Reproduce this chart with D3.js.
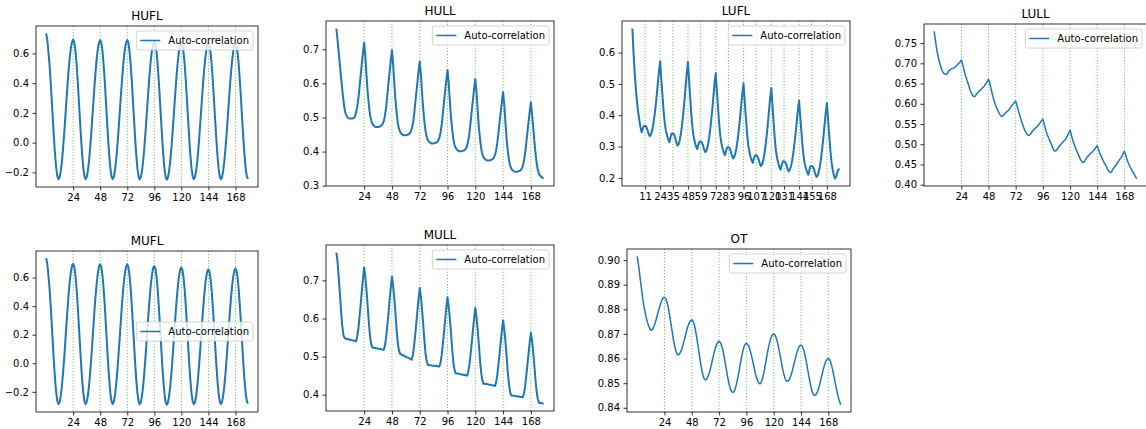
<!DOCTYPE html>
<html>
<head>
<meta charset="utf-8">
<script src="https://cdn.jsdelivr.net/npm/d3@7"></script>
<style>
body { margin: 0; background: #fff; }
svg text { font-family: "DejaVu Sans", sans-serif; fill: #000; }
</style>
</head>
<body>
<svg width="1146" height="429"></svg>
<script>
var lags = d3.range(0, 180);
var dayTicks = [24, 48, 72, 96, 120, 144, 168];
var lufllTicks = [11, 24, 35, 48, 59, 72, 83, 96, 107, 120, 131, 144, 155, 168];
var legendLabel = 'Auto-correlation';

var hufl = [
  0.735, 0.695, 0.615, 0.529, 0.416, 0.288, 0.156, 0.028, -0.085, -0.172, -0.227, -0.246,
  -0.232, -0.192, -0.129, -0.043, 0.056, 0.165, 0.279, 0.388, 0.488, 0.573, 0.636, 0.676,
  0.693, 0.674, 0.619, 0.532, 0.419, 0.291, 0.159, 0.031, -0.082, -0.169, -0.226, -0.246,
  -0.232, -0.192, -0.129, -0.043, 0.056, 0.165, 0.279, 0.388, 0.488, 0.573, 0.636, 0.675,
  0.689, 0.670, 0.615, 0.528, 0.415, 0.287, 0.155, 0.027, -0.086, -0.172, -0.227, -0.245,
  -0.231, -0.191, -0.128, -0.042, 0.056, 0.165, 0.278, 0.387, 0.487, 0.572, 0.635, 0.674,
  0.689, 0.670, 0.615, 0.528, 0.415, 0.287, 0.155, 0.027, -0.086, -0.173, -0.228, -0.247,
  -0.233, -0.194, -0.131, -0.046, 0.052, 0.160, 0.273, 0.381, 0.480, 0.564, 0.627, 0.667,
  0.680, 0.661, 0.606, 0.520, 0.408, 0.281, 0.150, 0.023, -0.089, -0.175, -0.230, -0.249,
  -0.236, -0.196, -0.133, -0.049, 0.049, 0.157, 0.269, 0.377, 0.475, 0.559, 0.622, 0.662,
  0.675, 0.656, 0.602, 0.516, 0.406, 0.280, 0.149, 0.023, -0.087, -0.173, -0.227, -0.246,
  -0.233, -0.193, -0.131, -0.048, 0.049, 0.157, 0.267, 0.375, 0.472, 0.555, 0.617, 0.657,
  0.670, 0.651, 0.597, 0.512, 0.402, 0.277, 0.147, 0.022, -0.088, -0.173, -0.227, -0.246,
  -0.233, -0.193, -0.131, -0.048, 0.048, 0.155, 0.266, 0.373, 0.470, 0.552, 0.614, 0.654,
  0.667, 0.648, 0.595, 0.510, 0.400, 0.276, 0.146, 0.022, -0.087, -0.171, -0.225, -0.244
];

var hull = [
  0.761, 0.728, 0.692, 0.655, 0.620, 0.585, 0.553, 0.527, 0.511, 0.503, 0.499, 0.497,
  0.497, 0.497, 0.497, 0.499, 0.502, 0.515, 0.530, 0.555, 0.588, 0.624, 0.658, 0.691,
  0.720, 0.680, 0.626, 0.576, 0.539, 0.509, 0.492, 0.482, 0.477, 0.474, 0.472, 0.472,
  0.472, 0.473, 0.474, 0.477, 0.481, 0.490, 0.506, 0.531, 0.564, 0.600, 0.634, 0.668,
  0.697, 0.657, 0.602, 0.553, 0.515, 0.485, 0.468, 0.458, 0.453, 0.450, 0.448, 0.448,
  0.448, 0.449, 0.450, 0.452, 0.457, 0.465, 0.480, 0.504, 0.537, 0.571, 0.604, 0.636,
  0.664, 0.626, 0.573, 0.525, 0.489, 0.460, 0.443, 0.434, 0.429, 0.426, 0.424, 0.424,
  0.424, 0.425, 0.426, 0.428, 0.433, 0.441, 0.456, 0.480, 0.512, 0.547, 0.579, 0.611,
  0.639, 0.601, 0.549, 0.501, 0.465, 0.437, 0.420, 0.411, 0.406, 0.403, 0.401, 0.401,
  0.401, 0.402, 0.403, 0.405, 0.409, 0.418, 0.433, 0.456, 0.488, 0.522, 0.554, 0.585,
  0.613, 0.575, 0.522, 0.474, 0.439, 0.410, 0.393, 0.384, 0.379, 0.376, 0.374, 0.374,
  0.374, 0.375, 0.376, 0.378, 0.382, 0.390, 0.404, 0.426, 0.456, 0.488, 0.518, 0.548,
  0.574, 0.537, 0.485, 0.439, 0.404, 0.376, 0.360, 0.350, 0.346, 0.343, 0.341, 0.341,
  0.341, 0.342, 0.343, 0.345, 0.349, 0.357, 0.372, 0.394, 0.425, 0.457, 0.488, 0.518,
  0.545, 0.510, 0.470, 0.430, 0.395, 0.365, 0.345, 0.334, 0.329, 0.326, 0.323, 0.321
];

var lufl = [
  0.677, 0.600, 0.535, 0.485, 0.443, 0.410, 0.385, 0.362, 0.346, 0.358, 0.366, 0.366,
  0.363, 0.354, 0.341, 0.333, 0.338, 0.350, 0.369, 0.395, 0.426, 0.462, 0.503, 0.541,
  0.572, 0.515, 0.464, 0.412, 0.373, 0.350, 0.335, 0.322, 0.314, 0.331, 0.342, 0.342,
  0.339, 0.328, 0.313, 0.303, 0.308, 0.322, 0.343, 0.372, 0.407, 0.447, 0.493, 0.535,
  0.570, 0.509, 0.453, 0.398, 0.356, 0.331, 0.314, 0.300, 0.292, 0.306, 0.316, 0.316,
  0.313, 0.304, 0.290, 0.282, 0.287, 0.300, 0.320, 0.348, 0.380, 0.418, 0.461, 0.501,
  0.534, 0.476, 0.424, 0.372, 0.332, 0.309, 0.293, 0.280, 0.272, 0.288, 0.298, 0.298,
  0.295, 0.285, 0.271, 0.262, 0.267, 0.279, 0.298, 0.324, 0.356, 0.392, 0.432, 0.471,
  0.502, 0.446, 0.395, 0.345, 0.306, 0.284, 0.268, 0.256, 0.248, 0.262, 0.272, 0.272,
  0.269, 0.260, 0.246, 0.238, 0.243, 0.255, 0.275, 0.303, 0.335, 0.372, 0.415, 0.455,
  0.487, 0.430, 0.377, 0.325, 0.286, 0.263, 0.247, 0.234, 0.226, 0.242, 0.253, 0.253,
  0.250, 0.242, 0.229, 0.221, 0.226, 0.237, 0.255, 0.280, 0.309, 0.343, 0.381, 0.418,
  0.447, 0.395, 0.347, 0.300, 0.265, 0.243, 0.229, 0.217, 0.210, 0.227, 0.238, 0.238,
  0.235, 0.226, 0.212, 0.203, 0.208, 0.220, 0.238, 0.264, 0.295, 0.330, 0.371, 0.408,
  0.439, 0.386, 0.336, 0.288, 0.251, 0.226, 0.208, 0.198, 0.204, 0.218, 0.227, 0.229
];

var lull = [
  0.779, 0.760, 0.740, 0.724, 0.711, 0.700, 0.690, 0.683, 0.677, 0.674, 0.673, 0.673,
  0.677, 0.681, 0.684, 0.686, 0.687, 0.688, 0.690, 0.692, 0.695, 0.698, 0.701, 0.704,
  0.708, 0.700, 0.688, 0.676, 0.667, 0.658, 0.650, 0.641, 0.632, 0.625, 0.620, 0.618,
  0.618, 0.622, 0.626, 0.629, 0.632, 0.634, 0.637, 0.640, 0.643, 0.647, 0.651, 0.656,
  0.661, 0.652, 0.640, 0.628, 0.617, 0.607, 0.598, 0.591, 0.585, 0.579, 0.574, 0.570,
  0.569, 0.571, 0.574, 0.577, 0.580, 0.582, 0.585, 0.589, 0.593, 0.597, 0.600, 0.604,
  0.607, 0.597, 0.587, 0.577, 0.567, 0.558, 0.550, 0.542, 0.535, 0.529, 0.525, 0.522,
  0.522, 0.525, 0.529, 0.533, 0.536, 0.539, 0.541, 0.544, 0.547, 0.551, 0.555, 0.559,
  0.562, 0.552, 0.541, 0.531, 0.523, 0.516, 0.510, 0.503, 0.496, 0.489, 0.484, 0.483,
  0.485, 0.489, 0.493, 0.497, 0.500, 0.503, 0.506, 0.509, 0.512, 0.517, 0.523, 0.529,
  0.535, 0.525, 0.514, 0.505, 0.497, 0.490, 0.483, 0.477, 0.470, 0.464, 0.459, 0.456,
  0.455, 0.459, 0.464, 0.468, 0.471, 0.474, 0.477, 0.480, 0.482, 0.485, 0.489, 0.493,
  0.496, 0.488, 0.480, 0.473, 0.467, 0.461, 0.455, 0.450, 0.445, 0.439, 0.434, 0.431,
  0.430, 0.434, 0.439, 0.443, 0.446, 0.450, 0.455, 0.459, 0.463, 0.467, 0.472, 0.478,
  0.483, 0.475, 0.465, 0.457, 0.450, 0.444, 0.439, 0.434, 0.429, 0.424, 0.419, 0.415
];

var mufl = [
  0.735, 0.700, 0.620, 0.530, 0.412, 0.277, 0.137, 0.002, -0.116, -0.208, -0.266, -0.286,
  -0.272, -0.229, -0.163, -0.073, 0.031, 0.146, 0.265, 0.380, 0.485, 0.574, 0.640, 0.683,
  0.697, 0.677, 0.619, 0.527, 0.409, 0.275, 0.136, 0.002, -0.116, -0.208, -0.266, -0.286,
  -0.272, -0.230, -0.163, -0.074, 0.030, 0.144, 0.263, 0.377, 0.482, 0.570, 0.637, 0.679,
  0.693, 0.673, 0.615, 0.524, 0.407, 0.273, 0.135, 0.001, -0.116, -0.207, -0.265, -0.285,
  -0.271, -0.229, -0.162, -0.073, 0.030, 0.145, 0.263, 0.378, 0.482, 0.570, 0.637, 0.679,
  0.693, 0.673, 0.615, 0.524, 0.406, 0.273, 0.134, 0.000, -0.118, -0.209, -0.267, -0.287,
  -0.273, -0.231, -0.166, -0.077, 0.025, 0.138, 0.256, 0.369, 0.472, 0.560, 0.625, 0.667,
  0.681, 0.661, 0.604, 0.514, 0.397, 0.264, 0.127, -0.006, -0.122, -0.213, -0.270, -0.290,
  -0.276, -0.235, -0.170, -0.082, 0.020, 0.132, 0.248, 0.360, 0.463, 0.550, 0.615, 0.656,
  0.670, 0.650, 0.594, 0.505, 0.390, 0.259, 0.124, -0.007, -0.122, -0.211, -0.267, -0.287,
  -0.273, -0.233, -0.168, -0.082, 0.018, 0.128, 0.243, 0.353, 0.454, 0.539, 0.604, 0.644,
  0.658, 0.639, 0.583, 0.495, 0.382, 0.253, 0.119, -0.010, -0.123, -0.211, -0.267, -0.286,
  -0.272, -0.231, -0.167, -0.081, 0.020, 0.131, 0.246, 0.357, 0.458, 0.544, 0.608, 0.649,
  0.663, 0.644, 0.588, 0.500, 0.386, 0.257, 0.123, -0.006, -0.120, -0.208, -0.264, -0.283
];

var mull = [
  0.773, 0.750, 0.710, 0.668, 0.622, 0.583, 0.558, 0.549, 0.547, 0.546, 0.546, 0.545,
  0.544, 0.543, 0.543, 0.542, 0.541, 0.540, 0.552, 0.573, 0.604, 0.637, 0.672, 0.705,
  0.734, 0.709, 0.675, 0.635, 0.591, 0.555, 0.534, 0.524, 0.523, 0.523, 0.522, 0.522,
  0.521, 0.520, 0.520, 0.519, 0.518, 0.518, 0.530, 0.551, 0.581, 0.614, 0.649, 0.681,
  0.710, 0.686, 0.653, 0.615, 0.572, 0.537, 0.517, 0.507, 0.506, 0.504, 0.503, 0.501,
  0.500, 0.498, 0.497, 0.495, 0.494, 0.492, 0.503, 0.524, 0.554, 0.586, 0.620, 0.652,
  0.680, 0.656, 0.623, 0.585, 0.543, 0.508, 0.488, 0.478, 0.478, 0.477, 0.477, 0.476,
  0.476, 0.476, 0.475, 0.475, 0.474, 0.474, 0.485, 0.505, 0.534, 0.565, 0.598, 0.629,
  0.656, 0.632, 0.600, 0.562, 0.520, 0.486, 0.466, 0.456, 0.456, 0.455, 0.455, 0.454,
  0.453, 0.453, 0.452, 0.451, 0.451, 0.450, 0.461, 0.480, 0.509, 0.539, 0.571, 0.601,
  0.628, 0.604, 0.572, 0.534, 0.493, 0.459, 0.439, 0.429, 0.429, 0.428, 0.428, 0.427,
  0.426, 0.426, 0.425, 0.424, 0.424, 0.423, 0.433, 0.452, 0.480, 0.509, 0.540, 0.569,
  0.595, 0.571, 0.540, 0.502, 0.461, 0.428, 0.408, 0.398, 0.398, 0.397, 0.397, 0.396,
  0.396, 0.395, 0.395, 0.394, 0.394, 0.393, 0.403, 0.422, 0.449, 0.478, 0.509, 0.538,
  0.563, 0.541, 0.511, 0.476, 0.438, 0.407, 0.388, 0.379, 0.378, 0.378, 0.377, 0.377
];

var ot = [
  0.9015, 0.8985, 0.8950, 0.8912, 0.8875, 0.8840, 0.8810, 0.8787, 0.8765, 0.8748, 0.8733, 0.8722,
  0.8715, 0.8716, 0.8723, 0.8734, 0.8748, 0.8764, 0.8782, 0.8799, 0.8815, 0.8829, 0.8840, 0.8847,
  0.8849, 0.8845, 0.8833, 0.8815, 0.8790, 0.8762, 0.8732, 0.8702, 0.8673, 0.8649, 0.8631, 0.8619,
  0.8615, 0.8617, 0.8625, 0.8636, 0.8651, 0.8668, 0.8686, 0.8704, 0.8722, 0.8736, 0.8747, 0.8755,
  0.8757, 0.8753, 0.8741, 0.8721, 0.8696, 0.8666, 0.8635, 0.8604, 0.8574, 0.8549, 0.8529, 0.8517,
  0.8513, 0.8516, 0.8524, 0.8536, 0.8552, 0.8571, 0.8592, 0.8612, 0.8631, 0.8647, 0.8659, 0.8667,
  0.8670, 0.8666, 0.8656, 0.8640, 0.8618, 0.8593, 0.8566, 0.8539, 0.8514, 0.8492, 0.8476, 0.8466,
  0.8462, 0.8465, 0.8475, 0.8491, 0.8512, 0.8536, 0.8562, 0.8588, 0.8612, 0.8633, 0.8649, 0.8659,
  0.8662, 0.8659, 0.8651, 0.8638, 0.8621, 0.8601, 0.8580, 0.8559, 0.8538, 0.8521, 0.8508, 0.8500,
  0.8497, 0.8503, 0.8516, 0.8535, 0.8558, 0.8584, 0.8610, 0.8635, 0.8657, 0.8675, 0.8689, 0.8697,
  0.8700, 0.8697, 0.8687, 0.8672, 0.8652, 0.8628, 0.8604, 0.8579, 0.8555, 0.8535, 0.8520, 0.8510,
  0.8507, 0.8510, 0.8517, 0.8529, 0.8544, 0.8562, 0.8581, 0.8600, 0.8618, 0.8633, 0.8645, 0.8652,
  0.8655, 0.8652, 0.8641, 0.8625, 0.8604, 0.8579, 0.8552, 0.8526, 0.8501, 0.8480, 0.8463, 0.8453,
  0.8450, 0.8453, 0.8460, 0.8472, 0.8488, 0.8506, 0.8526, 0.8545, 0.8563, 0.8579, 0.8590, 0.8598,
  0.8601, 0.8597, 0.8586, 0.8570, 0.8550, 0.8527, 0.8503, 0.8480, 0.8459, 0.8439, 0.8424, 0.8413
];

var huflTicksY = [-0.2, 0.0, 0.2, 0.4, 0.6];
var hullTicksY = [0.3, 0.4, 0.5, 0.6, 0.7];
var luflTicksY = [0.2, 0.3, 0.4, 0.5, 0.6];
var lullTicksY = [0.40, 0.45, 0.50, 0.55, 0.60, 0.65, 0.70, 0.75];
var muflTicksY = [-0.2, 0.0, 0.2, 0.4, 0.6];
var mullTicksY = [0.4, 0.5, 0.6, 0.7];
var otTicksY = [0.84, 0.85, 0.86, 0.87, 0.88, 0.89, 0.90];

// box = [left, top, right, bottom] in pixels
var panels = [
  {title: 'HUFL', values: hufl, xTicks: dayTicks, yTicks: huflTicksY, fmt: '.1f', box: [36, 26, 258, 187], legend: 'upper', lw: 2},
  {title: 'HULL', values: hull, xTicks: dayTicks, yTicks: hullTicksY, fmt: '.1f', box: [326, 21, 554, 186], legend: 'upper', lw: 2},
  {title: 'LUFL', values: lufl, xTicks: lufllTicks, yTicks: luflTicksY, fmt: '.1f', box: [622, 21, 850, 186], legend: 'upper', lw: 2},
  {title: 'LULL', values: lull, xTicks: dayTicks, yTicks: lullTicksY, fmt: '.2f', box: [924, 24, 1147, 186], legend: 'upper', lw: 1.5},
  {title: 'MUFL', values: mufl, xTicks: dayTicks, yTicks: muflTicksY, fmt: '.1f', box: [36, 251, 258, 412], legend: 'center', lw: 2},
  {title: 'MULL', values: mull, xTicks: dayTicks, yTicks: mullTicksY, fmt: '.1f', box: [326, 245, 554, 411], legend: 'upper', lw: 2},
  {title: 'OT', values: ot, xTicks: dayTicks, yTicks: otTicksY, fmt: '.2f', box: [627, 249, 851, 412], legend: 'upper', lw: 1.5}
];

var svg = d3.select('svg');

panels.forEach(drawPanel);

function padded(ext){
  var pad = (ext[1] - ext[0]) * 0.05;
  return [ext[0] - pad, ext[1] + pad];
}

function drawPanel(p){
  var left = p.box[0], top = p.box[1], right = p.box[2], bottom = p.box[3];
  var x = d3.scaleLinear().domain(padded(d3.extent(lags))).range([left, right]);
  var y = d3.scaleLinear().domain(padded(d3.extent(p.values))).range([bottom, top]);
  var g = svg.append('g');

  // green markers at each x tick
  g.selectAll('.vline')
    .data(p.xTicks)
    .enter().append('line')
    .attr('x1', function(d){ return x(d); })
    .attr('x2', function(d){ return x(d); })
    .attr('y1', top)
    .attr('y2', bottom)
    .attr('stroke', '#2ca02c')
    .attr('stroke-width', 0.8)
    .attr('stroke-dasharray', '1.2,1.8')
    .attr('opacity', 0.8);

  var line = d3.line()
    .x(function(d, i){ return x(lags[i]); })
    .y(function(d){ return y(d); });

  g.append('path')
    .datum(p.values)
    .attr('d', line)
    .attr('fill', 'none')
    .attr('stroke', '#1f77b4')
    .attr('stroke-width', p.lw)
    .attr('stroke-linejoin', 'round');

  var xAxis = d3.axisBottom(x).tickValues(p.xTicks).tickSize(3.5).tickPadding(3.5).tickFormat(d3.format('d'));
  var yAxis = d3.axisLeft(y).tickValues(p.yTicks).tickSize(3.5).tickPadding(3.5).tickFormat(d3.format(p.fmt));

  var gx = g.append('g').attr('transform', 'translate(0,' + bottom + ')').call(xAxis);
  var gy = g.append('g').attr('transform', 'translate(' + left + ',0)').call(yAxis);
  [gx, gy].forEach(function(a){
    a.select('.domain').remove();
    a.selectAll('line').attr('stroke', '#000').attr('stroke-width', 0.8);
    a.selectAll('text').attr('font-size', '10px').attr('font-family', 'DejaVu Sans');
  });

  g.append('rect')
    .attr('x', left).attr('y', top)
    .attr('width', right - left).attr('height', bottom - top)
    .attr('fill', 'none')
    .attr('stroke', '#000')
    .attr('stroke-width', 0.8);

  g.append('text')
    .attr('x', (left + right) / 2)
    .attr('y', top - 6)
    .attr('text-anchor', 'middle')
    .attr('font-size', '12px')
    .text(p.title);

  drawLegend(g, p, left, top, right, bottom);
}

function drawLegend(g, p, left, top, right, bottom){
  var lg = g.append('g');
  var rect = lg.append('rect');
  var label = lg.append('text').attr('font-size', '10px').text(legendLabel);
  var tw = label.node().getComputedTextLength();
  var w = 4 + 20 + 8 + tw + 4;
  var h = 19;
  var bx = right - 5 - w;
  var by = p.legend === 'center' ? (top + bottom) / 2 - h / 2 : top + 5;
  rect.attr('x', bx).attr('y', by).attr('width', w).attr('height', h)
    .attr('rx', 2)
    .attr('fill', '#fff').attr('fill-opacity', 0.8)
    .attr('stroke', '#cccccc').attr('stroke-width', 0.8);
  lg.append('line')
    .attr('x1', bx + 4).attr('x2', bx + 24)
    .attr('y1', by + h / 2).attr('y2', by + h / 2)
    .attr('stroke', '#1f77b4').attr('stroke-width', 1.5);
  label.attr('x', bx + 32).attr('y', by + h / 2 + 3.6);
}
</script>
</body>
</html>
